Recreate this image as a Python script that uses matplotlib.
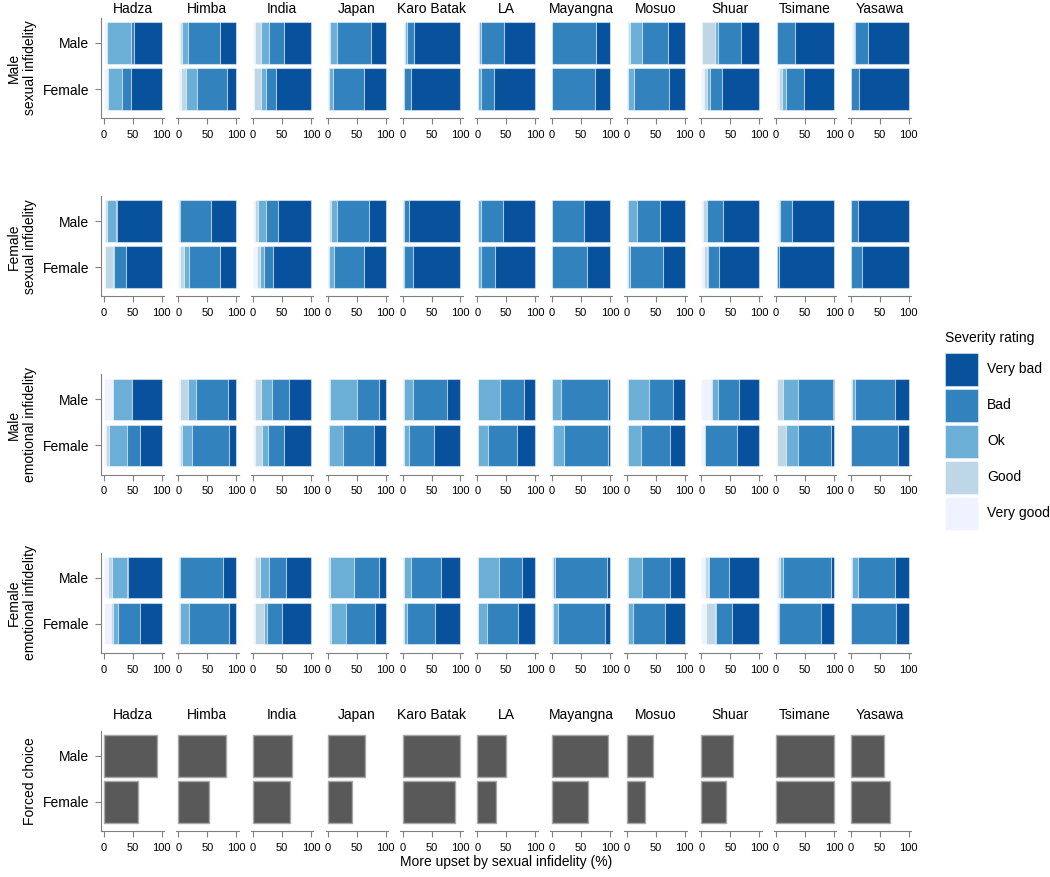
import numpy as np
import matplotlib
matplotlib.use("Agg")
import matplotlib.pyplot as plt
from matplotlib.patches import Rectangle

plt.rcParams['font.family'] = ['Liberation Sans', 'DejaVu Sans']

sites = ["Hadza", "Himba", "India", "Japan", "Karo Batak", "LA",
         "Mayangna", "Mosuo", "Shuar", "Tsimane", "Yasawa"]
ratings = ["Very good", "Good", "Ok", "Bad", "Very bad"]
rating_colors = ["#eff3ff", "#bdd7e7", "#6baed6", "#3182bd", "#08519c"]

# percentages per site: [very good, good, ok, bad, very bad]
# male sexual infidelity
ms_male = [[6, 0, 41, 6, 47], [2, 4, 11, 54, 29], [3, 10, 15, 25, 47], [2, 2, 12, 59, 25],
           [4, 1, 3, 11, 81], [3, 0, 4, 40, 53], [0, 0, 1, 75, 24], [2, 4, 20, 46, 28],
           [2, 21, 5, 41, 31], [1, 0, 1, 31, 67], [6, 0, 2, 22, 70]]
ms_female = [[6, 1, 24, 16, 53], [5, 8, 19, 51, 17], [2, 12, 9, 17, 60], [1, 1, 7, 54, 37],
             [1, 1, 1, 12, 85], [1, 0, 5, 23, 71], [0, 0, 1, 74, 25], [1, 1, 10, 61, 27],
             [4, 6, 5, 21, 64], [5, 6, 6, 31, 52], [0, 0, 1, 13, 86]]
# female sexual infidelity
fs_male = [[2, 4, 15, 1, 78], [1, 0, 1, 54, 44], [4, 4, 14, 21, 57], [2, 3, 10, 56, 29],
           [1, 0, 1, 9, 89], [1, 1, 4, 39, 55], [0, 0, 1, 54, 45], [1, 1, 16, 39, 43],
           [3, 6, 1, 27, 63], [6, 0, 1, 21, 72], [1, 0, 0, 12, 87]]
fs_female = [[2, 14, 1, 22, 61], [2, 7, 9, 53, 29], [6, 5, 8, 15, 66], [1, 1, 9, 52, 37],
             [1, 0, 1, 16, 82], [1, 1, 4, 24, 70], [0, 0, 1, 59, 40], [1, 1, 4, 56, 38],
             [5, 4, 3, 19, 69], [1, 0, 1, 4, 94], [0, 0, 1, 19, 80]]
# male emotional infidelity
me_male = [[16, 0, 32, 1, 51], [2, 14, 15, 54, 15], [4, 10, 18, 29, 39], [2, 2, 46, 38, 12],
           [1, 1, 16, 58, 24], [1, 1, 37, 42, 19], [0, 1, 14, 82, 3], [1, 1, 36, 42, 20],
           [17, 2, 10, 36, 35], [2, 10, 26, 61, 1], [1, 2, 5, 69, 23]]
me_female = [[4, 5, 31, 23, 37], [3, 3, 18, 64, 12], [4, 11, 10, 28, 47], [1, 1, 24, 54, 20],
             [1, 1, 9, 43, 46], [1, 1, 16, 51, 31], [1, 1, 19, 76, 3], [1, 1, 22, 50, 26],
             [5, 1, 1, 54, 39], [2, 15, 21, 57, 5], [0, 0, 1, 80, 19]]
# female emotional infidelity
fe_male = [[8, 6, 26, 2, 58], [1, 0, 1, 74, 24], [4, 7, 17, 28, 44], [1, 2, 43, 42, 12],
           [1, 1, 12, 53, 33], [1, 1, 36, 40, 22], [1, 1, 4, 89, 5], [1, 1, 25, 48, 25],
           [6, 6, 2, 34, 52], [3, 4, 5, 83, 5], [1, 1, 11, 64, 23]]
fe_female = [[13, 3, 8, 39, 37], [1, 2, 15, 69, 13], [4, 14, 6, 26, 50], [2, 4, 25, 50, 19],
             [1, 1, 6, 48, 44], [1, 1, 15, 53, 30], [1, 1, 8, 82, 8], [1, 1, 9, 56, 33],
             [8, 15, 2, 28, 47], [2, 2, 1, 73, 22], [0, 0, 1, 78, 21]]

# forced choice: % more upset by sexual infidelity
fc_male = [92, 82, 67, 64, 100, 50, 97, 45, 55, 100, 58]
fc_female = [59, 52, 63, 41, 91, 32, 63, 32, 42, 100, 67]

row_labels = ["Male\nsexual infidelity", "Female\nsexual infidelity",
              "Male\nemotional infidelity", "Female\nemotional infidelity", "Forced choice"]
severity_rows = [(ms_male, ms_female), (fs_male, fs_female),
                 (me_male, me_female), (fe_male, fe_female)]

spine_col = "#808080"
edge = (1, 1, 1, 0.45)

fig = plt.figure(figsize=(10.5, 8.77), dpi=100)
gs = fig.add_gridspec(5, 11, left=0.0966, right=0.8676, top=0.9795, bottom=0.0525,
                      wspace=0.193, hspace=0.78)

for r in range(5):
    for c, site in enumerate(sites):
        ax = fig.add_subplot(gs[r, c])
        if r < 4:
            m = np.array(severity_rows[r][0][c], dtype=float)
            f = np.array(severity_rows[r][1][c], dtype=float)
            left_m, left_f = 0.0, 0.0
            for k in range(5):
                ax.barh([1, 0], [m[k], f[k]], left=[left_m, left_f], height=0.9,
                        color=rating_colors[k], edgecolor=edge, linewidth=0.8)
                left_m += m[k]
                left_f += f[k]
        else:
            ax.barh([1, 0], [fc_male[c], fc_female[c]], height=0.9,
                    color="#595959", edgecolor="#a8a8a8", linewidth=1)

        ax.set_xlim(-4, 104)
        ax.set_ylim(-0.63, 1.54)
        ax.set_xticks([0, 50, 100])
        ax.tick_params(axis='x', labelsize=8, length=4, color=spine_col, pad=4.5)
        ax.spines['top'].set_visible(False)
        ax.spines['right'].set_visible(False)
        ax.spines['bottom'].set_color(spine_col)
        ax.spines['left'].set_color(spine_col)
        if c == 0:
            ax.set_yticks([1, 0])
            ax.set_yticklabels(["Male", "Female"], fontsize=10)
            ax.tick_params(axis='y', length=4, color=spine_col, pad=5)
            ax.set_ylabel(row_labels[r], fontsize=10, labelpad=4)
        else:
            ax.set_yticks([])
            ax.spines['left'].set_visible(False)
        if r == 0:
            ax.set_title(site, fontsize=10, pad=3.6)
        elif r == 4:
            ax.set_title(site, fontsize=10, pad=8.6)

fig.text(0.482, 1 - 862 / 877, "More upset by sexual infidelity (%)",
         ha='center', va='center', fontsize=10)

# legend drawn by hand in a pixel-scaled axes
lax = fig.add_axes([935 / 1050, 1 - 540 / 877, 115 / 1050, 215 / 877])
lax.set_xlim(935, 1050)
lax.set_ylim(540, 325)
lax.axis('off')
lax.text(945, 338, "Severity rating", fontsize=10, ha='left', va='center')
for i, k in enumerate(range(4, -1, -1)):
    y0 = 353 + i * 35.9
    lax.add_patch(Rectangle((945, y0), 33, 33, facecolor=rating_colors[k],
                            edgecolor=edge, linewidth=0.8))
    lax.text(987, y0 + 16.5, ratings[k], fontsize=10, ha='left', va='center')

fig.savefig("out.png", dpi=100)
